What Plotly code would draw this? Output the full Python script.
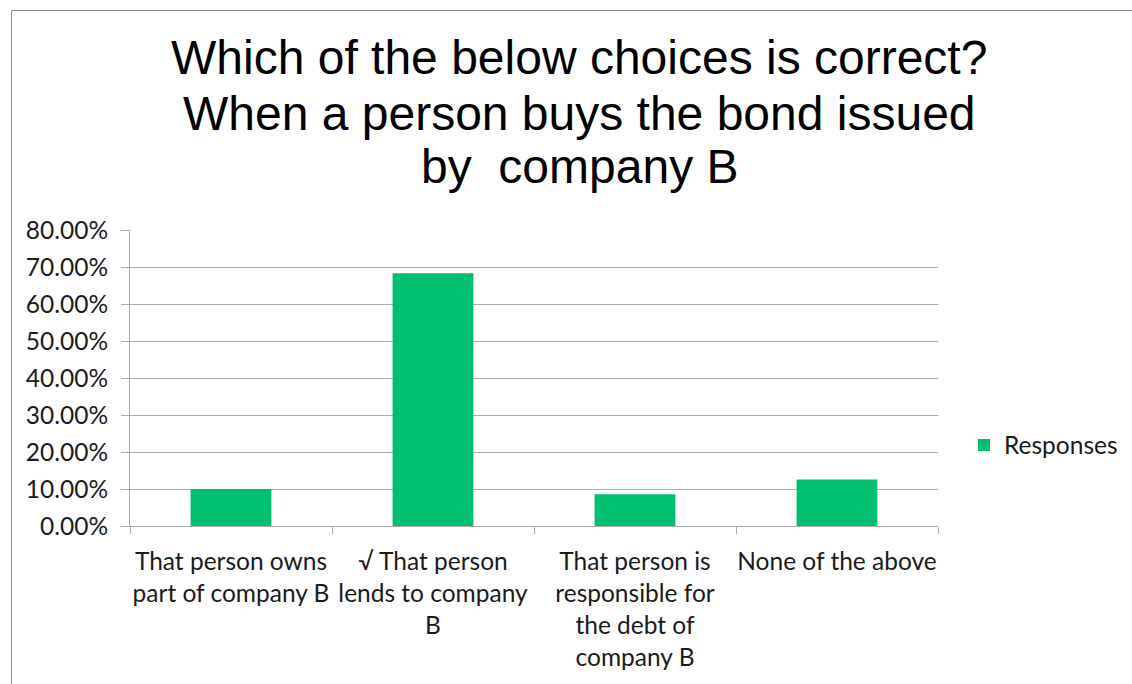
import plotly.graph_objects as go

# Survey answers and share of responses
categories = [
    "That person owns<br>part of company B",
    "√ That person<br>lends to company<br>B",
    "That person is<br>responsible for<br>the debt of<br>company B",
    "None of the above",
]
responses = [0.100, 0.683, 0.086, 0.126]
series_name = "Responses"
y_ticks = [0.0, 0.1, 0.2, 0.3, 0.4, 0.5, 0.6, 0.7, 0.8]
title_lines = [
    "Which of the below choices is correct?",
    "When a person buys the bond issued",
    "by \u00a0company B",
]

W, H = 1132, 684
M_L, M_R, M_T, M_B = 130, 194, 230, 158
PW, PH = W - M_L - M_R, H - M_T - M_B

GREEN = "#00BF6F"
GRID = "#ababab"
TEXT_FONT = "Lato"
TEXT_SIZE = 24.5
TEXT_COLOR = "#1a1a1a"


def px_to_paper_x(px):
    return (px - M_L) / PW


def px_to_paper_y(py):
    return (H - M_B - py) / PH


fig = go.Figure(
    go.Bar(
        x=categories,
        y=responses,
        name=series_name,
        marker=dict(color=GREEN, line=dict(width=0)),
        width=0.4,
        showlegend=True,
    )
)

# Three-line heading, one annotation per line for tight line spacing
title_centers = [58, 113, 167]
annotations = [
    dict(
        text=line,
        xref="paper",
        yref="paper",
        x=px_to_paper_x(579),
        y=px_to_paper_y(cy),
        xanchor="center",
        yanchor="middle",
        showarrow=False,
        font=dict(family="Liberation Sans, Arial, sans-serif", size=48, color="black"),
    )
    for line, cy in zip(title_lines, title_centers)
]

fig.update_layout(
    width=W,
    height=H,
    margin=dict(l=M_L, r=M_R, t=M_T, b=M_B, autoexpand=False),
    paper_bgcolor="white",
    plot_bgcolor="white",
    font=dict(family=TEXT_FONT, size=TEXT_SIZE, color=TEXT_COLOR),
    annotations=annotations,
    legend=dict(
        x=px_to_paper_x(964),
        y=px_to_paper_y(445),
        xanchor="left",
        yanchor="middle",
        font=dict(family=TEXT_FONT, size=TEXT_SIZE, color=TEXT_COLOR),
        itemwidth=30,
        bgcolor="rgba(0,0,0,0)",
    ),
    bargap=0.6,
    xaxis=dict(
        type="category",
        tickson="boundaries",
        ticks="outside",
        ticklen=7,
        tickcolor=GRID,
        tickangle=0,
        ticklabelstandoff=14,
        showline=True,
        linecolor=GRID,
        linewidth=1,
        showgrid=False,
        tickfont=dict(family=TEXT_FONT, size=TEXT_SIZE, color=TEXT_COLOR),
    ),
    yaxis=dict(
        range=[0, 0.8],
        tickvals=y_ticks,
        tickformat=".2%",
        ticks="outside",
        ticklen=8,
        tickcolor=GRID,
        ticklabelstandoff=8,
        showline=True,
        linecolor=GRID,
        linewidth=1,
        showgrid=True,
        gridcolor=GRID,
        gridwidth=1,
        zeroline=False,
        tickfont=dict(family=TEXT_FONT, size=TEXT_SIZE, color=TEXT_COLOR),
    ),
    shapes=[
        # chart frame
        dict(
            type="rect",
            xref="paper",
            yref="paper",
            x0=px_to_paper_x(11.5),
            x1=px_to_paper_x(1140),
            y0=px_to_paper_y(700),
            y1=px_to_paper_y(10.5),
            line=dict(color="#8c8c8c", width=1),
            fillcolor="rgba(0,0,0,0)",
            layer="below",
        )
    ],
)

fig.write_html("out.html")
